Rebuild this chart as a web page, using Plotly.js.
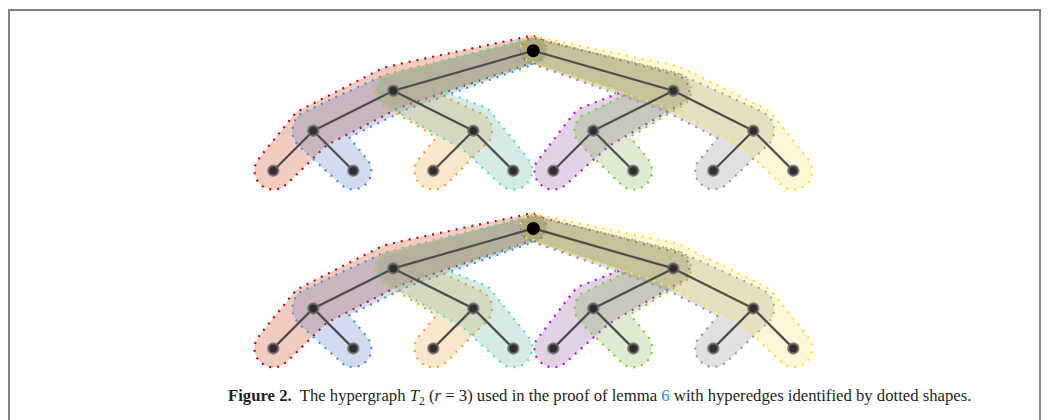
<!DOCTYPE html>
<html><head><meta charset="utf-8">
<script src="https://cdn.plot.ly/plotly-3.0.1.min.js"></script>
<style>html,body{margin:0;padding:0;background:#fff;} #chart{width:1049px;height:420px;}</style>
</head><body><div id="chart"></div>
<script>
// ---- data: tree nodes (drawing units) ----
const rootX = [533.3];
const level1X = [393.3, 673.3];
const level2X = [313.3, 473.3, 593.3, 753.3];
const leafX = [273.3, 353.3, 433.3, 513.3, 553.3, 633.3, 713.3, 793.3];
const levelY = [50.7, 90.7, 130.7, 170.7];
const copyOffsetY = [0, 177.7];
// hyperedges: one per leaf (root-to-leaf path)
const hyperedgeLeaf = [0, 1, 2, 3, 4, 5, 6, 7];
const captionText = "<b>Figure 2.</b>  The hypergraph <i>T</i><sub>2</sub> (<i>r</i> = 3) used in the proof of lemma <span style='color:#1f8fd6'>6</span> with hyperedges identified by dotted shapes.";

// ---- styles ----
const outlineColors = ['#d0021b','#4a90e2','#f5a623','#50e3c2','#bd10e0','#7ed321','#9b9b9b','#f8e71c'];
const fillColors = ['rgba(195,55,0,0.25)','rgba(75,115,195,0.25)','rgba(235,163,55,0.25)','rgba(95,175,155,0.25)',
                    'rgba(135,75,155,0.25)','rgba(123,175,75,0.25)','rgba(135,135,135,0.25)','rgba(243,227,95,0.25)'];
// tube half-widths at [root, L1, L2, leaf], side A (+normal) and side B
const radA = [[15,25,25,19],[12,18,21,19],[12,18,24,19],[13,16,21,19],[12,17,26,19],[11,16,19,19],[13,22,22,18],[11,18,19,19]];
const radB = [[11,18,19,19],[13,22,22,18],[11,16,19,19],[12,17,26,19],[13,16,21,19],[12,18,24,19],[12,18,21,19],[15,25,25,19]];

function arc(c, r0, r1, v0, v1, mode){
  const t0 = Math.atan2(v0[1], v0[0]); const t1 = Math.atan2(v1[1], v1[0]);
  let dt = t1 - t0;
  if (mode === 'neg') { while (dt > 0) dt -= 2*Math.PI; while (dt <= -2*Math.PI) dt += 2*Math.PI; }
  else { while (dt > Math.PI) dt -= 2*Math.PI; while (dt < -Math.PI) dt += 2*Math.PI; }
  const m = Math.max(2, Math.ceil(Math.abs(dt)/0.1));
  const out = [];
  for (let k=0;k<=m;k++){ const t=t0+dt*k/m, r=r0+(r1-r0)*k/m; out.push([c[0]+r*Math.cos(t), c[1]+r*Math.sin(t)]); }
  return out;
}
function intersect(p1,p2,p3,p4){
  const d1=[p2[0]-p1[0],p2[1]-p1[1]], d2=[p4[0]-p3[0],p4[1]-p3[1]];
  const den=d1[0]*d2[1]-d1[1]*d2[0];
  if (Math.abs(den)<1e-9) return [(p2[0]+p3[0])/2,(p2[1]+p3[1])/2];
  const t=((p3[0]-p1[0])*d2[1]-(p3[1]-p1[1])*d2[0])/den;
  return [p1[0]+t*d1[0], p1[1]+t*d1[1]];
}
function resample(pts, step){
  const out=[]; const m=pts.length;
  for (let i=0;i<m;i++){
    const p=pts[i], q=pts[(i+1)%m];
    const d=Math.hypot(q[0]-p[0], q[1]-p[1]); const k=Math.max(1, Math.ceil(d/step));
    for (let j=0;j<k;j++) out.push([p[0]+(q[0]-p[0])*j/k, p[1]+(q[1]-p[1])*j/k]);
  }
  return out;
}
function chaikin(pts, it){
  for (let s=0;s<it;s++){
    const out=[]; const m=pts.length;
    for (let i=0;i<m;i++){ const p=pts[i], q=pts[(i+1)%m];
      out.push([0.75*p[0]+0.25*q[0],0.75*p[1]+0.25*q[1]],[0.25*p[0]+0.75*q[0],0.25*p[1]+0.75*q[1]]); }
    pts=out;
  }
  return pts;
}
function tube(P, rA, rB){
  const n=P.length, segs=[];
  for (let i=0;i<n-1;i++){
    const [x1,y1]=P[i], [x2,y2]=P[i+1];
    const dx=x2-x1, dy=y2-y1, d=Math.hypot(dx,dy);
    const u=[dx/d,dy/d], nn=[-u[1],u[0]];
    const sa=(rA[i]-rA[i+1])/d, ca=Math.sqrt(1-sa*sa);
    const vA=[nn[0]*ca+u[0]*sa, nn[1]*ca+u[1]*sa];
    const sb=(rB[i]-rB[i+1])/d, cb=Math.sqrt(1-sb*sb);
    const vB=[-nn[0]*cb+u[0]*sb, -nn[1]*cb+u[1]*sb];
    segs.push({u,vA,vB,
      a0:[x1+rA[i]*vA[0], y1+rA[i]*vA[1]], a1:[x2+rA[i+1]*vA[0], y2+rA[i+1]*vA[1]],
      b0:[x1+rB[i]*vB[0], y1+rB[i]*vB[1]], b1:[x2+rB[i+1]*vB[0], y2+rB[i+1]*vB[1]]});
  }
  const sideA=[segs[0].a0], sideB=[segs[0].b0];
  for (let i=1;i<n-1;i++){
    const s0=segs[i-1], s1=segs[i];
    const cross=s0.u[0]*s1.u[1]-s0.u[1]*s1.u[0];
    if (cross<0){ sideA.push(...arc(P[i], rA[i], rA[i], s0.vA, s1.vA, 'short')); sideB.push(intersect(s0.b0,s0.b1,s1.b0,s1.b1)); }
    else { sideA.push(intersect(s0.a0,s0.a1,s1.a0,s1.a1)); sideB.push(...arc(P[i], rB[i], rB[i], s0.vB, s1.vB, 'short')); }
  }
  const last=segs[n-2];
  sideA.push(last.a1); sideB.push(last.b1);
  const endCap=arc(P[n-1], rA[n-1], rB[n-1], last.vA, last.vB, 'neg');
  const startCap=arc(P[0], rB[0], rA[0], segs[0].vB, segs[0].vA, 'neg');
  let poly=[...sideA, ...endCap, ...sideB.slice().reverse(), ...startCap];
  poly = chaikin(resample(poly, 5), 4);
  return poly;
}

const traces=[];
copyOffsetY.forEach(function(off){
  const ly = levelY.map(function(v){return v+off;});
  hyperedgeLeaf.forEach(function(j, h){
    const P=[[rootX[0], ly[0]], [level1X[Math.floor(j/4)], ly[1]], [level2X[Math.floor(j/2)], ly[2]], [leafX[j], ly[3]]];
    const poly=tube(P, radA[h], radB[h]);
    const xs=poly.map(function(p){return p[0];}), ys=poly.map(function(p){return p[1];});
    xs.push(xs[0]); ys.push(ys[0]);
    traces.push({type:'scatter', mode:'lines', x:xs, y:ys, fill:'toself', fillcolor:fillColors[h],
      line:{color:outlineColors[h], width:2.2, dash:'2px,6px'}, hoverinfo:'skip'});
  });
  // tree edges
  const ex=[], ey=[];
  level1X.forEach(function(x){ ex.push(rootX[0], x, null); ey.push(ly[0], ly[1], null); });
  level2X.forEach(function(x,i){ ex.push(level1X[Math.floor(i/2)], x, null); ey.push(ly[1], ly[2], null); });
  leafX.forEach(function(x,i){ ex.push(level2X[Math.floor(i/2)], x, null); ey.push(ly[2], ly[3], null); });
  traces.push({type:'scatter', mode:'lines', x:ex, y:ey, line:{color:'#4d4d4d', width:2.2}, hoverinfo:'skip'});
  // nodes
  const nx=[].concat(level1X, level2X, leafX);
  const ny=[].concat(level1X.map(function(){return ly[1];}), level2X.map(function(){return ly[2];}), leafX.map(function(){return ly[3];}));
  traces.push({type:'scatter', mode:'markers', x:nx, y:ny,
    marker:{size:10, color:'#2e2e2e', line:{color:'rgba(105,105,105,0.75)', width:2.5}}, hoverinfo:'skip'});
  traces.push({type:'scatter', mode:'markers', x:rootX, y:[ly[0]],
    marker:{size:13, color:'#000000', line:{width:0}}, hoverinfo:'skip'});
});

const layout={
  width:1049, height:420, margin:{l:0,r:0,t:0,b:0}, showlegend:false,
  paper_bgcolor:'#ffffff', plot_bgcolor:'#ffffff',
  xaxis:{range:[0,1049], visible:false, fixedrange:true},
  yaxis:{range:[420,0], visible:false, fixedrange:true},
  shapes:[{type:'path', xref:'x', yref:'y', path:'M 9 440 L 9 10 L 1040 10 L 1040 440', line:{color:'#808080', width:2}}],
  annotations:[{xref:'x', yref:'y', x:599, y:397, text:captionText, showarrow:false,
    font:{family:'Liberation Serif, Times New Roman, serif', size:16.7, color:'#231f20'}, xanchor:'center', yanchor:'middle'}]
};
Plotly.newPlot('chart', traces, layout, {staticPlot:true, displayModeBar:false});
</script>
</body></html>
